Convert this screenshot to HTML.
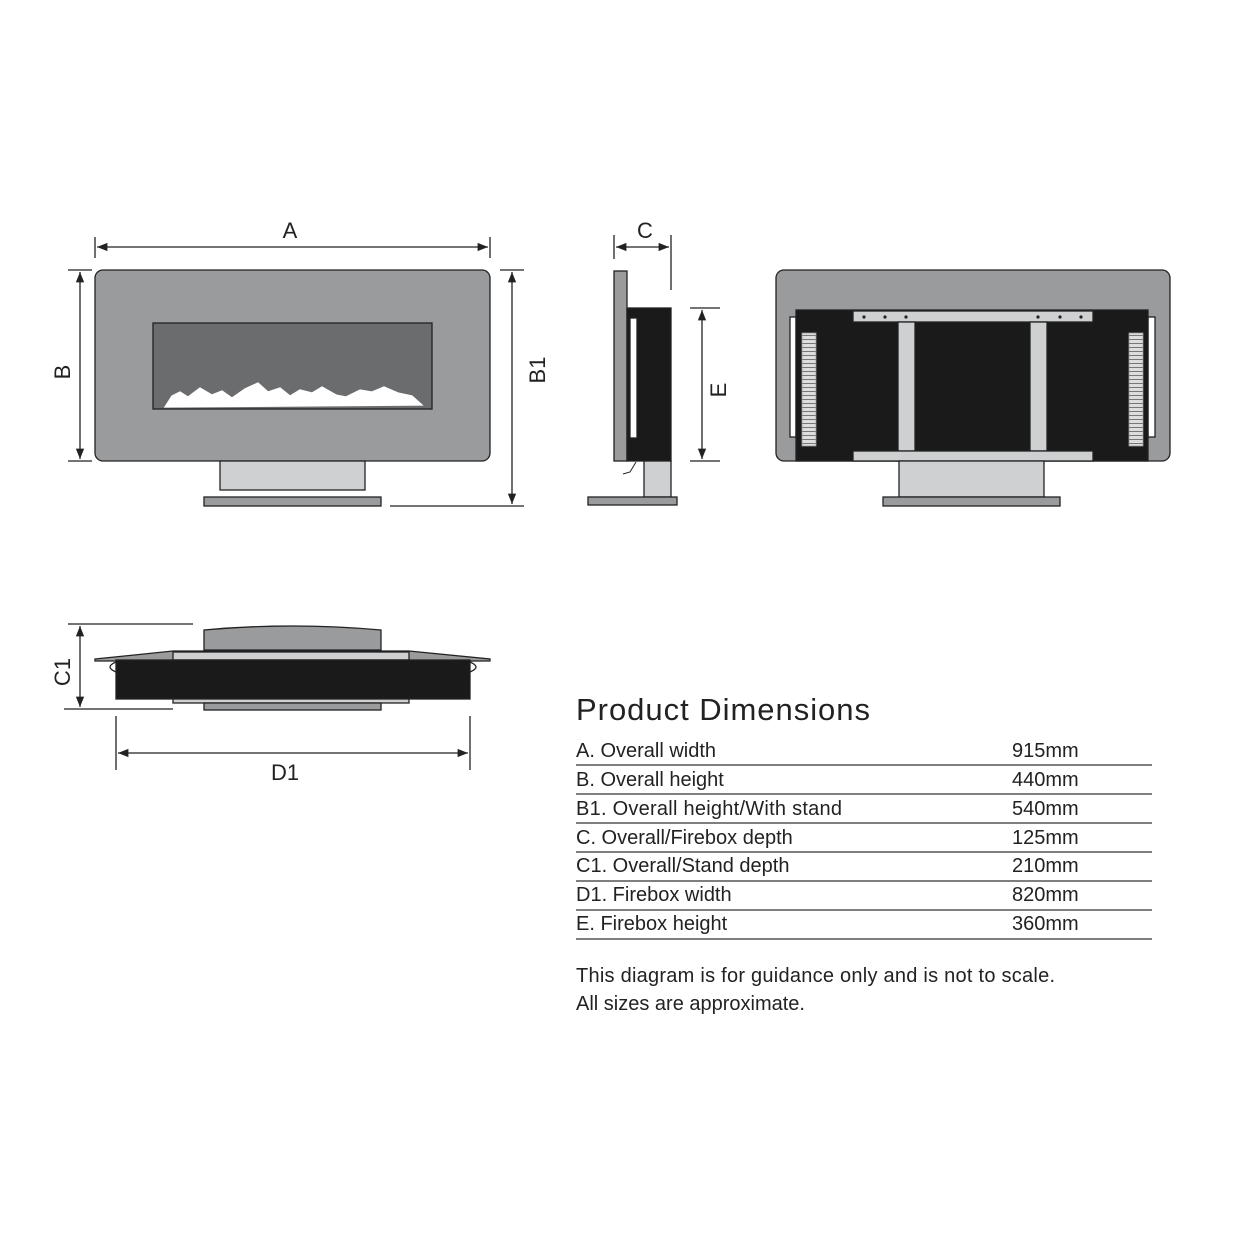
<!DOCTYPE html>
<html><head><style>body{margin:0;background:#fff}svg{display:block}text{font-family:"Liberation Sans",sans-serif;fill:#222}</style></head><body>
<svg width="1260" height="1260" viewBox="0 0 1260 1260" xmlns="http://www.w3.org/2000/svg">
<defs><marker id="ar" viewBox="0 0 10 10" refX="10" refY="5" markerWidth="10" markerHeight="8" orient="auto-start-reverse"><path d="M0,1 L10,5 L0,9 z" fill="#222"/></marker>
<pattern id="vent" width="13" height="4" patternUnits="userSpaceOnUse"><rect width="13" height="4" fill="#ddd"/><line x1="0" y1="3.5" x2="13" y2="3.5" stroke="#777" stroke-width="1"/></pattern></defs>
<g stroke="#222" stroke-width="1.3">
<!-- front view -->
<rect x="95" y="270" width="395" height="191" rx="8" fill="#9a9b9d"/>
<rect x="153" y="323" width="279" height="86" fill="#6b6c6e"/>
<path d="M165,407 L172,396 L180,392 L188,397 L200,388 L212,395 L222,391 L232,398 L245,389 L258,383 L268,392 L280,388 L290,396 L300,390 L312,393 L322,387 L336,395 L346,397 L360,390 L372,392 L384,387 L398,393 L412,396 L422,405 Z" fill="#fff" stroke="#fff"/>
<rect x="220" y="461" width="145" height="29" fill="#cfd0d1"/>
<rect x="204" y="497" width="177" height="9" fill="#9a9b9d"/>
<line x1="97" y1="247" x2="488" y2="247" marker-start="url(#ar)" marker-end="url(#ar)"/>
<line x1="95" y1="237" x2="95" y2="258"/><line x1="490" y1="237" x2="490" y2="258"/>
<line x1="80" y1="272" x2="80" y2="459" marker-start="url(#ar)" marker-end="url(#ar)"/>
<line x1="68" y1="270" x2="92" y2="270"/><line x1="68" y1="461" x2="92" y2="461"/>
<line x1="512" y1="272" x2="512" y2="504" marker-start="url(#ar)" marker-end="url(#ar)"/>
<line x1="500" y1="270" x2="524" y2="270"/><line x1="390" y1="506" x2="524" y2="506"/>
<!-- side view -->
<rect x="614" y="271" width="13" height="190" fill="#9a9b9d"/>
<rect x="627" y="308" width="44" height="153" fill="#1a1a1a"/>
<rect x="630" y="318" width="7" height="120" fill="#fff"/>
<rect x="644" y="461" width="27" height="36" fill="#cfd0d1"/>
<rect x="588" y="497" width="89" height="8" fill="#9a9b9d"/>
<path d="M623,474 L630,472 L636,462" fill="none" stroke-width="1"/>
<line x1="616" y1="247" x2="669" y2="247" marker-start="url(#ar)" marker-end="url(#ar)"/>
<line x1="614" y1="235" x2="614" y2="259"/><line x1="671" y1="235" x2="671" y2="290"/>
<line x1="702" y1="310" x2="702" y2="459" marker-start="url(#ar)" marker-end="url(#ar)"/>
<line x1="690" y1="308" x2="720" y2="308"/><line x1="690" y1="461" x2="720" y2="461"/>
<!-- back view -->
<rect x="776" y="270" width="394" height="191" rx="8" fill="#9a9b9d"/>
<rect x="790" y="317" width="6" height="120" fill="#fff"/>
<rect x="1148" y="317" width="7" height="120" fill="#fff"/>
<rect x="796" y="310" width="352" height="151" fill="#1a1a1a"/>
<rect x="853" y="311" width="240" height="11" fill="#cfd0d1"/>
<rect x="898" y="322" width="17" height="129" fill="#cfd0d1"/>
<rect x="1030" y="322" width="17" height="129" fill="#cfd0d1"/>
<rect x="853" y="451" width="240" height="10" fill="#cfd0d1"/>
<rect x="802" y="333" width="14" height="113" fill="url(#vent)" stroke="#999" stroke-width="0.8"/>
<rect x="1129" y="333" width="14" height="113" fill="url(#vent)" stroke="#999" stroke-width="0.8"/>
<rect x="899" y="461" width="145" height="36" fill="#cfd0d1"/>
<rect x="883" y="497" width="177" height="9" fill="#9a9b9d"/>
<!-- top view -->
<path d="M204,650 L204,630 Q292,622 381,630 L381,650 Z" fill="#9a9b9d"/>
<path d="M95,659 L173,651 L409,651 L490,659 L490,661 L95,661 Z" fill="#9a9b9d"/>
<rect x="173" y="652" width="236" height="8" fill="#cfd0d1"/>
<path d="M116,662 Q104,667 116,672" fill="#fff"/><path d="M470,662 Q482,667 470,672" fill="#fff"/>
<rect x="116" y="660" width="354" height="39" fill="#1a1a1a"/>
<rect x="173" y="699" width="236" height="4" fill="#cfd0d1"/>
<rect x="204" y="703" width="177" height="7" fill="#9a9b9d"/>
<line x1="80" y1="626" x2="80" y2="707" marker-start="url(#ar)" marker-end="url(#ar)"/>
<line x1="68" y1="624" x2="193" y2="624"/><line x1="64" y1="709" x2="173" y2="709"/>
<line x1="118" y1="753" x2="468" y2="753" marker-start="url(#ar)" marker-end="url(#ar)"/>
<line x1="116" y1="716" x2="116" y2="770"/><line x1="470" y1="716" x2="470" y2="770"/>
</g>
<g fill="#222">
<circle cx="864" cy="317" r="1.6"/><circle cx="885" cy="317" r="1.6"/><circle cx="906" cy="317" r="1.6"/>
<circle cx="1038" cy="317" r="1.6"/><circle cx="1060" cy="317" r="1.6"/><circle cx="1081" cy="317" r="1.6"/>
</g>
<g font-size="22">
<text x="290" y="238" text-anchor="middle">A</text>
<text x="645" y="238" text-anchor="middle">C</text>
<text transform="translate(70,372) rotate(-90)" text-anchor="middle">B</text>
<text transform="translate(545,370) rotate(-90)" text-anchor="middle">B1</text>
<text transform="translate(726,390) rotate(-90)" text-anchor="middle">E</text>
<text transform="translate(70,672) rotate(-90)" text-anchor="middle">C1</text>
<text x="285" y="780" text-anchor="middle">D1</text>
</g>
<text x="576" y="720" font-size="31" textLength="294">Product Dimensions</text>
<g font-size="20">
<text x="576" y="757">A. Overall width</text><text x="1012" y="757">915mm</text>
<text x="576" y="786">B. Overall height</text><text x="1012" y="786">440mm</text>
<text x="576" y="815" textLength="266">B1. Overall height/With stand</text><text x="1012" y="815">540mm</text>
<text x="576" y="844">C. Overall/Firebox depth</text><text x="1012" y="844">125mm</text>
<text x="576" y="872">C1. Overall/Stand depth</text><text x="1012" y="872">210mm</text>
<text x="576" y="901">D1. Firebox width</text><text x="1012" y="901">820mm</text>
<text x="576" y="930">E. Firebox height</text><text x="1012" y="930">360mm</text>
<text x="576" y="982" textLength="479">This diagram is for guidance only and is not to scale.</text>
<text x="576" y="1010">All sizes are approximate.</text>
</g>
<g stroke="#333" stroke-width="1.3">
<line x1="576" y1="765" x2="1152" y2="765"/><line x1="576" y1="794" x2="1152" y2="794"/>
<line x1="576" y1="823" x2="1152" y2="823"/><line x1="576" y1="852" x2="1152" y2="852"/>
<line x1="576" y1="881" x2="1152" y2="881"/><line x1="576" y1="910" x2="1152" y2="910"/>
<line x1="576" y1="939" x2="1152" y2="939"/>
</g>
</svg>
</body></html>
